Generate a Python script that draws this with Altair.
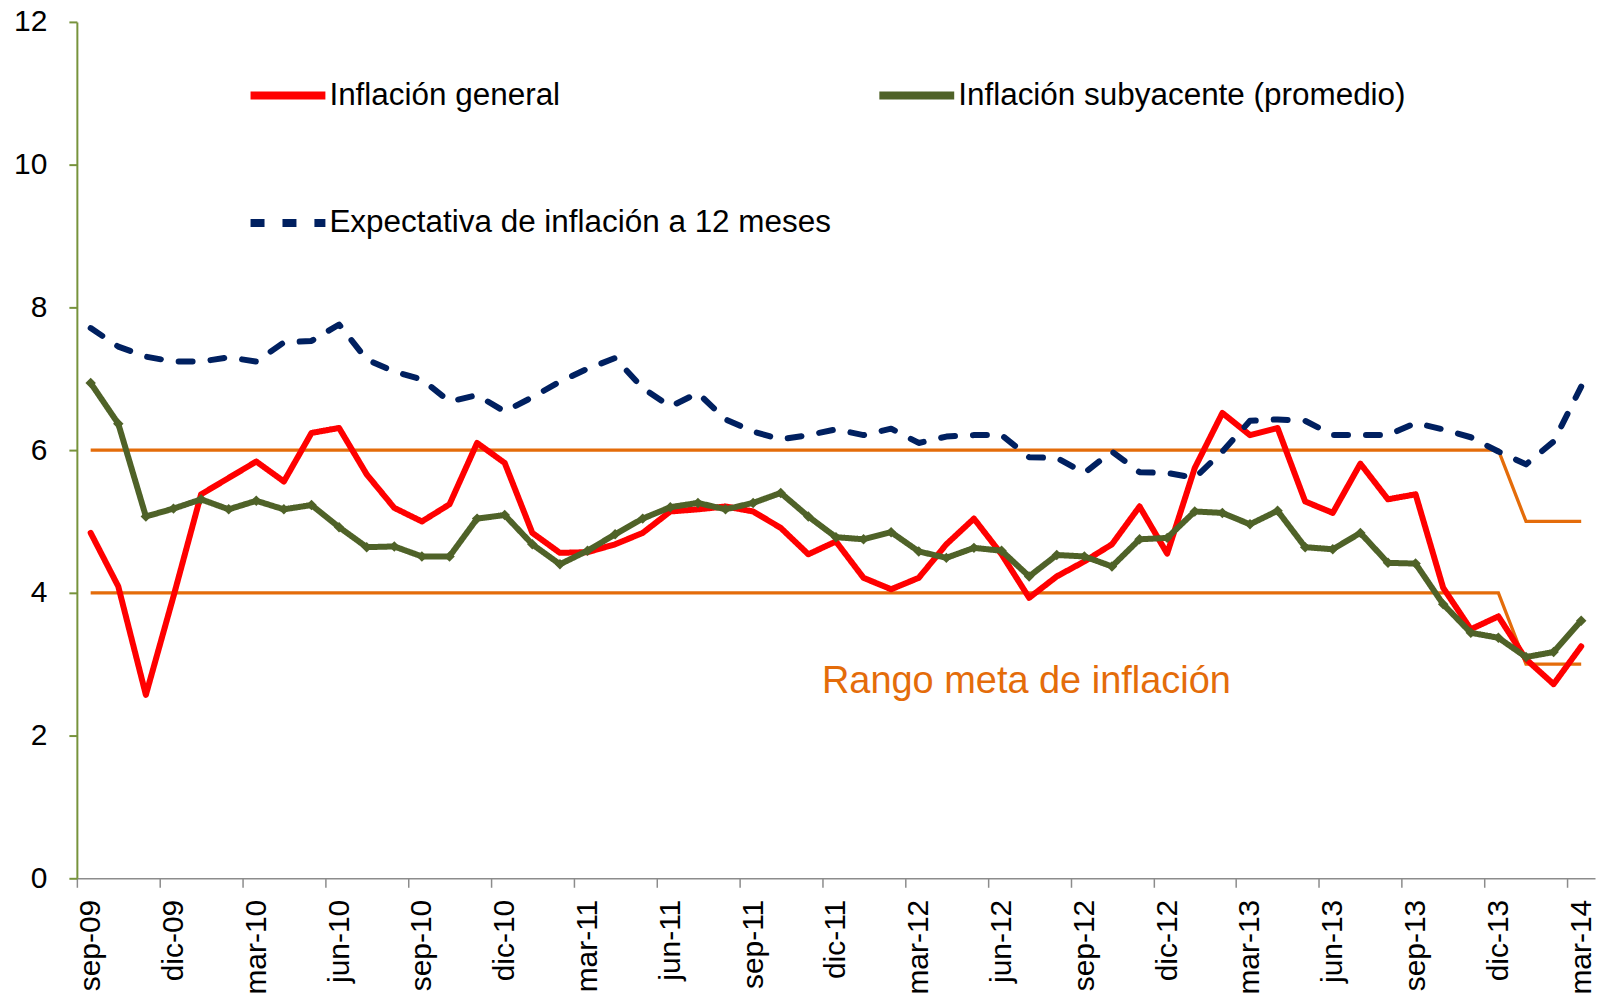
import altair as alt
import pandas as pd

# ---------------- data ----------------
meses = [
    "sep-09", "oct-09", "nov-09", "dic-09",
    "ene-10", "feb-10", "mar-10", "abr-10", "may-10", "jun-10", "jul-10", "ago-10", "sep-10", "oct-10", "nov-10", "dic-10",
    "ene-11", "feb-11", "mar-11", "abr-11", "may-11", "jun-11", "jul-11", "ago-11", "sep-11", "oct-11", "nov-11", "dic-11",
    "ene-12", "feb-12", "mar-12", "abr-12", "may-12", "jun-12", "jul-12", "ago-12", "sep-12", "oct-12", "nov-12", "dic-12",
    "ene-13", "feb-13", "mar-13", "abr-13", "may-13", "jun-13", "jul-13", "ago-13", "sep-13", "oct-13", "nov-13", "dic-13",
    "ene-14", "feb-14", "mar-14",
]

inflacion_general = [
    4.84, 4.09, 2.57, 3.95,
    5.38, 5.61, 5.84, 5.56, 6.24, 6.31, 5.66, 5.19, 5.00, 5.24, 6.10, 5.82,
    4.84, 4.56, 4.57, 4.68, 4.84, 5.14, 5.17, 5.21, 5.14, 4.91, 4.54, 4.72,
    4.21, 4.05, 4.21, 4.68, 5.04, 4.54, 3.93, 4.23, 4.44, 4.68, 5.21, 4.55,
    5.75, 6.52, 6.21, 6.31, 5.28, 5.12, 5.81, 5.31, 5.38, 4.07, 3.49, 3.67,
    3.07, 2.72, 3.25,
]

inflacion_subyacente = [
    6.94, 6.37, 5.07, 5.18,
    5.31, 5.17, 5.29, 5.17, 5.23, 4.92, 4.64, 4.65, 4.51, 4.51, 5.04, 5.09,
    4.68, 4.40, 4.59, 4.82, 5.04, 5.20, 5.26, 5.17, 5.26, 5.40, 5.07, 4.78,
    4.75, 4.85, 4.58, 4.49, 4.63, 4.59, 4.23, 4.53, 4.51, 4.37, 4.75, 4.77,
    5.14, 5.12, 4.96, 5.15, 4.64, 4.61, 4.84, 4.42, 4.41, 3.84, 3.44, 3.37,
    3.10, 3.17, 3.61,
]

expectativa_12m = [
    7.71, 7.45, 7.31, 7.24,
    7.24, 7.30, 7.24, 7.51, 7.53, 7.76, 7.27, 7.10, 6.99, 6.68, 6.77, 6.54,
    6.74, 6.96, 7.14, 7.29, 6.87, 6.61, 6.80, 6.43, 6.26, 6.15, 6.21, 6.29,
    6.21, 6.30, 6.10, 6.19, 6.21, 6.21, 5.90, 5.89, 5.68, 5.98, 5.69, 5.68,
    5.61, 5.98, 6.41, 6.43, 6.41, 6.21, 6.21, 6.21, 6.38, 6.29, 6.18, 5.98,
    5.80, 6.12, 6.89,
]

meta_superior = [
    6, 6, 6, 6,
    6, 6, 6, 6, 6, 6, 6, 6, 6, 6, 6, 6,
    6, 6, 6, 6, 6, 6, 6, 6, 6, 6, 6, 6,
    6, 6, 6, 6, 6, 6, 6, 6, 6, 6, 6, 6,
    6, 6, 6, 6, 6, 6, 6, 6, 6, 6, 6, 6,
    5, 5, 5,
]

meta_inferior = [
    4, 4, 4, 4,
    4, 4, 4, 4, 4, 4, 4, 4, 4, 4, 4, 4,
    4, 4, 4, 4, 4, 4, 4, 4, 4, 4, 4, 4,
    4, 4, 4, 4, 4, 4, 4, 4, 4, 4, 4, 4,
    4, 4, 4, 4, 4, 4, 4, 4, 4, 4, 4, 4,
    3, 3, 3,
]

series_nombres = [
    "Inflación general",
    "Inflación subyacente (promedio)",
    "Expectativa de inflación a 12 meses",
]
series_colores = ["#FF0000", "#4F6228", "#002060"]
series_trazos = [[1, 0], [1, 0], [14, 18]]

anotacion_texto = "Rango meta de inflación"
anotacion_idx = 33.9
anotacion_valor = 2.6

ORANGE = "#E46C0A"
FONT = "Liberation Sans"

# ---------------- tables ----------------
n = len(meses)
rows = []
for name, vals in zip(series_nombres, [inflacion_general, inflacion_subyacente, expectativa_12m]):
    for i, v in enumerate(vals):
        rows.append({"idx": i, "mes": meses[i], "valor": v, "serie": name})
df = pd.DataFrame(rows)

meta_rows = []
for lim, vals in [("sup", meta_superior), ("inf", meta_inferior)]:
    for i, v in enumerate(vals):
        meta_rows.append({"idx": i, "valor": v, "limite": lim})
df_meta = pd.DataFrame(meta_rows)

df_sub = df[df["serie"] == series_nombres[1]]
df_txt = pd.DataFrame([{"idx": anotacion_idx, "valor": anotacion_valor, "texto": anotacion_texto}])

# ---------------- scales / axes ----------------
label_array = "[" + ",".join("'" + m + "'" for m in meses) + "]"
tick_values = [i - 0.5 for i in range(0, n, 3)]

x_scale = alt.Scale(domain=[-0.5, n - 0.5], nice=False, zero=False)
y_scale = alt.Scale(domain=[0, 12], nice=False, zero=True)

x_axis = alt.Axis(
    values=tick_values,
    labelExpr=label_array + "[round(datum.value + 0.5)]",
    labelAngle=-90,
    labelOffset=13.8,
    labelFontSize=30,
    labelFont=FONT,
    labelColor="#000000",
    labelPadding=12,
    labelOverlap=False,
    labelFlush=False,
    tickSize=9,
    tickColor="#8C8C8C",
    tickWidth=1.5,
    domainColor="#8C8C8C",
    domainWidth=1.5,
    grid=False,
    title=None,
)

y_axis = alt.Axis(
    values=[0, 2, 4, 6, 8, 10, 12],
    format="d",
    labelFontSize=30,
    labelFont=FONT,
    labelColor="#000000",
    labelPadding=22,
    tickSize=8,
    tickColor="#77933C",
    tickWidth=2,
    domainColor="#77933C",
    domainWidth=2,
    grid=False,
    title=None,
)

X = alt.X("idx:Q", scale=x_scale, axis=x_axis)
Y = alt.Y("valor:Q", scale=y_scale, axis=y_axis)
Xn = alt.X("idx:Q", scale=x_scale)
Yn = alt.Y("valor:Q", scale=y_scale)

legend = alt.Legend(
    title=None,
    orient="none",
    legendX=170,
    legendY=32,
    columns=2,
    direction="horizontal",
    symbolType="stroke",
    symbolSize=5625,
    symbolStrokeWidth=8,
    labelFontSize=31.5,
    labelFont=FONT,
    labelColor="#000000",
    labelLimit=0,
    labelOffset=0,
    columnPadding=32,
    rowPadding=70,
    padding=0,
)

# ---------------- layers ----------------
meta = alt.Chart(df_meta).mark_line(color=ORANGE, strokeWidth=3.3).encode(
    x=X, y=Y, detail="limite:N"
)

lines = alt.Chart(df).mark_line(strokeWidth=6, strokeCap="round", strokeJoin="round").encode(
    x=Xn,
    y=Yn,
    color=alt.Color("serie:N", scale=alt.Scale(domain=series_nombres, range=series_colores), legend=legend),
    strokeDash=alt.StrokeDash("serie:N", scale=alt.Scale(domain=series_nombres, range=series_trazos), legend=legend),
    order="idx:Q",
)

diamonds = alt.Chart(df_sub).mark_point(shape="diamond", filled=True, size=110, opacity=1, color="#4F6228").encode(
    x=Xn, y=Yn
)

texto = alt.Chart(df_txt).mark_text(
    color=ORANGE, fontSize=38, font=FONT, align="center", baseline="alphabetic"
).encode(x=Xn, y=Yn, text="texto:N")

chart = alt.layer(meta, lines, diamonds, texto).properties(
    width=1521,
    height=858,
    autosize=alt.AutoSizeParams(type="none"),
    padding={"left": 69, "top": 13, "right": 2, "bottom": 120},
).configure_view(stroke=None)

chart.save("out.html", embed_options={"renderer": "svg", "actions": False})
